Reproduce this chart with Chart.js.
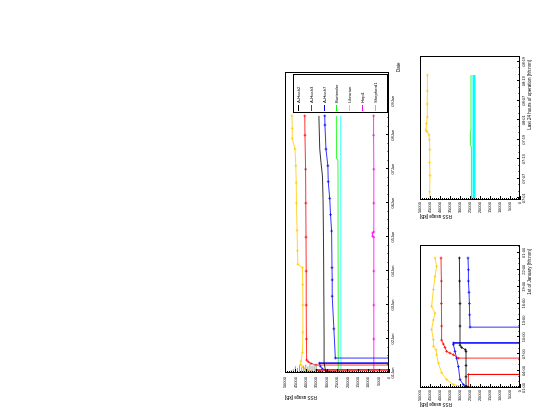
<!DOCTYPE html>
<html>
<head>
<meta charset="utf-8">
<title>RSS usage</title>
<script src="https://cdn.jsdelivr.net/npm/chart.js@4.4.1/dist/chart.umd.min.js"></script>
<style>
  html, body { margin: 0; padding: 0; background: #fff; }
  body { width: 538px; height: 416px; overflow: hidden; position: relative; }
  /* the figure is laid out upright (416 x 538) and turned a quarter to the left */
  #page { position: absolute; left: 0; top: 0; width: 416px; height: 538px;
          transform-origin: 0 0; transform: translateY(416px) rotate(-90deg); }
  #page canvas { position: absolute; }
</style>
</head>
<body>
<div id="page">
  <canvas id="c-main" width="416" height="145" style="left:0;top:265px"></canvas>
  <canvas id="c-jan1" width="208" height="133" style="left:0;top:405px"></canvas>
  <canvas id="c-last" width="226" height="133" style="left:190px;top:405px"></canvas>
</div>
<script>
'use strict';

/* ── Axis ticks ── */
const rssTicks = [0, 5000, 10000, 15000, 20000, 25000, 30000, 35000, 40000, 45000, 50000];

const mainDateTicks  = [1, 2, 3, 4, 5, 6, 7, 8, 9];
const mainDateLabels = ['01Jan', '02Jan', '03Jan', '04Jan', '05Jan', '06Jan', '07Jan', '08Jan', '09Jan'];

const jan1HourTicks  = [1, 4, 7, 10, 13, 16, 19, 22, 25];
const jan1HourLabels = ['01:00', '04:00', '07:00', '10:00', '13:00', '16:00', '19:00', '22:00', '01:00'];

const lastHourTicks  = [1, 7, 13, 19, 25, 31, 37, 43];
const lastHourLabels = ['07:01', '07:07', '07:13', '07:19', '08:01', '08:07', '08:13', '08:19'];

/* ── Main panel: x = day of January ── */
const hash2Days = [1.0, 1.02, 1.06, 1.3, 2.0, 3.0, 4.0, 5.0, 6.1, 6.8, 7.2, 7.6, 8.3, 8.57];
const hash2Rss  = [22000, 28500, 30500, 31200, 31200, 31300, 31400, 31500, 31700, 32000, 32700, 33300, 33600, 33700];

const hash3Days = [1.0, 1.01, 1.05, 1.09, 1.091, 1.234, 1.235, 1.28, 1.33, 1.38, 2.0, 3.0, 4.0, 5.0, 6.0, 7.0, 8.0, 8.57];
const hash3Rss  = [0, 30000, 33500, 35000, 0, 0, 35000, 37500, 38800, 39600, 39700, 39800, 39800, 39900, 40000, 40100, 40400, 40500];

const hash7Days = [1.0, 1.02, 1.06, 1.12, 1.2, 1.29, 1.291, 1.439, 1.44, 2.3, 3.26, 3.74, 4.1, 5.18, 5.66, 6.14, 6.63, 7.1, 7.59, 8.3, 8.57];
const hash7Rss  = [18000, 26000, 30000, 32000, 33000, 33500, 0, 0, 25800, 26500, 27300, 27300, 27400, 27600, 28100, 28500, 29200, 29400, 30300, 30800, 30900];

const bartenderDays = [1.0, 1.03, 3.0, 5.0, 6.8, 7.28, 7.3, 8.57];
const bartenderRss  = [23000, 24400, 24400, 24500, 24500, 24600, 25200, 25300];

const librarianDays = [1.0, 1.02, 1.05, 1.08, 1.12, 1.18, 1.25, 1.35, 1.6, 2.2, 3.0, 3.6, 4.1, 4.2, 4.6, 5.2, 6.0, 6.6, 7.1, 7.6, 7.9, 8.2, 8.57];
const librarianRss  = [25000, 33000, 37000, 39000, 40500, 41500, 42500, 42300, 41600, 41400, 41400, 41500, 41600, 43800, 44000, 44200, 44500, 44600, 44800, 45200, 46500, 46500, 46700];

const hepiDays = [1.0, 1.02, 2.0, 3.0, 4.0, 5.0, 5.03, 5.12, 5.15, 6.0, 7.0, 8.0, 8.57];
const hepiRss  = [6000, 7300, 7300, 7300, 7300, 7300, 7900, 7900, 7300, 7300, 7300, 7400, 7400];

const shepherdDays = [1.0, 1.05, 1.06, 8.57];
const shepherdRss  = [16500, 16800, 23100, 23200];

/* grey start-up comb near 01Jan */
const combLevels = [35000, 36000, 37000, 38000, 39000, 40000, 41000, 42000, 43000, 44000, 45000, 46000, 47000];
const combEnds   = [1.24, 1.27, 1.21, 1.26, 1.19, 1.25, 1.22, 1.17, 1.23, 1.15, 1.2, 1.12, 1.09];

/* ── 1st of January panel: x = local hour ── */
const jan1LibrarianHours = [1.0, 1.2, 1.6, 2.5, 3.7, 5.4, 6.9, 7.8, 8.4, 9.6, 11.4, 13.1, 14.3, 15.5, 18.5, 20.8, 22.6, 24.1];
const jan1LibrarianRss   = [17000, 28000, 33300, 36700, 39200, 40800, 41700, 42000, 43300, 43300, 44200, 43300, 42500, 44200, 43300, 42500, 41700, 42500];

const jan1Hash3Hours = [1.0, 1.1, 3.4, 3.41, 6.3, 6.31, 6.9, 7.2, 7.5, 8.2, 8.8, 9.5, 12, 16, 20, 24.1];
const jan1Hash3Rss   = [0, 25800, 25800, 0, 0, 30800, 33300, 35000, 36700, 37500, 38300, 39200, 39200, 39300, 39300, 39500];

const jan1Hash2Hours = [1.0, 1.3, 3.0, 5.0, 7.5, 7.8, 8.2, 8.6, 12, 16, 20, 24.1];
const jan1Hash2Rss   = [25000, 27000, 27000, 27000, 27000, 27300, 29200, 30000, 30000, 30000, 30200, 30300];

const jan1Hash7Hours = [1.0, 1.3, 1.6, 2.5, 4.8, 6.3, 7.5, 8.7, 9.0, 9.01, 11.8, 11.81, 14, 16, 18, 20, 22, 24.1];
const jan1Hash7Rss   = [24200, 26700, 28300, 30000, 30800, 31700, 32500, 33300, 33300, 0, 0, 25000, 25200, 25300, 25500, 25800, 25800, 26000];

/* ── Last hours panel: x = hours since 07Jan 00h ── */
const lastLibrarianHours = [0.5, 3, 8, 12, 16, 19, 20.5, 21.5, 22, 24, 26, 30, 34, 38.9];
const lastLibrarianRss   = [45000, 45200, 45000, 45200, 45100, 45300, 45500, 46500, 47000, 46800, 46300, 46400, 46300, 46300];

const lastBartenderHours = [0.5, 17, 17.1, 21.6, 21.7, 38.9];
const lastBartenderRss   = [24300, 24300, 24800, 24800, 24500, 24500];

const lastShepherdHours = [0.5, 38.9];
const lastShepherdRss   = [23000, 23000];

/* ── Colours (ROOT palette) ── */
const COL = {
  hash2: '#000000', hash3: '#ff0000', hash7: '#0000ff', bartender: '#00ff00',
  librarian: '#ffcc00', hepi: '#ff00ff', shepherd: '#00ffff'
};
const FAMILY = '"Liberation Sans", Arial, sans-serif';

const pts = (xs, ys) => xs.map((x, i) => ({ x, y: ys[i] }));

function series(label, color, xs, ys, marks, width) {
  return {
    label, data: pts(xs, ys), borderColor: color, backgroundColor: color,
    borderWidth: width || 0.8, tension: 0, pointStyle: 'cross',
    pointRadius: marks ? 1.4 : 0, pointBorderWidth: 0.7, pointBorderColor: color
  };
}

/* ── Frame, inner ticks and axis titles, ROOT style ── */
const rootFrame = {
  id: 'rootFrame',
  afterDraw(chart, args, o) {
    const { ctx, chartArea: a, scales: { x, y } } = chart;
    ctx.save();
    ctx.strokeStyle = '#000';
    ctx.lineWidth = 1;
    ctx.strokeRect(a.left + 0.5, a.top + 0.5, a.width - 1, a.height - 1);

    ctx.beginPath();
    const major = o.xTicks[1] - o.xTicks[0];
    let v = o.xTicks[0];
    while (v - o.xMinor >= x.min) v -= o.xMinor;
    for (; v <= x.max + 1e-9; v += o.xMinor) {
      const k = (v - o.xTicks[0]) / major;
      const len = Math.abs(k - Math.round(k)) < 1e-6 ? o.xLen : o.xLen / 2;
      const px = Math.round(x.getPixelForValue(v)) + 0.5;
      ctx.moveTo(px, a.bottom);
      ctx.lineTo(px, a.bottom - len);
    }
    for (let r = 0; r <= 50000; r += 1000) {
      const py = Math.round(y.getPixelForValue(r)) + 0.5;
      ctx.moveTo(a.left, py);
      ctx.lineTo(a.left + (r % 5000 === 0 ? o.yLen : o.yLen / 2), py);
    }
    ctx.stroke();

    ctx.fillStyle = '#000';
    ctx.font = `${o.titleSize}px ${FAMILY}`;
    ctx.textBaseline = 'alphabetic';
    ctx.textAlign = o.xTitleAlign;
    ctx.fillText(o.xTitle, a.right + o.xTitleDx, a.bottom + o.xTitleDy);

    ctx.translate(a.left - o.yTitleDx, a.top);
    ctx.rotate(-Math.PI / 2);
    ctx.textAlign = 'right';
    ctx.fillText('RSS usage [kB]', 0, 0);
    ctx.restore();
  }
};

/* ── Boxed legend in the main panel ── */
const boxLegend = {
  id: 'boxLegend',
  afterDraw(chart, args, o) {
    if (!o.show) return;
    const { ctx, chartArea: a } = chart;
    const l = a.right - 41, t = a.top + 8, w = 38, h = 94;
    ctx.save();
    ctx.fillStyle = '#fff';
    ctx.fillRect(l, t, w, h);
    ctx.strokeStyle = '#000';
    ctx.lineWidth = 1;
    ctx.strokeRect(l + 0.5, t + 0.5, w, h);
    ctx.font = `4.2px ${FAMILY}`;
    ctx.textBaseline = 'middle';
    ctx.textAlign = 'left';
    chart.data.datasets.filter(d => d.label).forEach((d, i) => {
      const yy = Math.round(a.top + 13 + i * 12.8) + 0.5;
      ctx.strokeStyle = d.borderColor;
      ctx.beginPath();
      ctx.moveTo(l + 2, yy);
      ctx.lineTo(l + 8, yy);
      ctx.stroke();
      ctx.fillStyle = '#000';
      ctx.fillText(d.label, l + 10, yy);
    });
    ctx.restore();
  }
};

function panel(id, datasets, o) {
  const font = { family: FAMILY, size: 4 };
  return new Chart(document.getElementById(id), {
    type: 'line',
    data: { datasets },
    plugins: [rootFrame, boxLegend],
    options: {
      responsive: false,
      animation: false,
      devicePixelRatio: 1,
      layout: { padding: { left: 0, top: o.top, right: o.right, bottom: 0 } },
      scales: {
        x: {
          type: 'linear', min: o.xMin, max: o.xMax,
          afterBuildTicks: s => { s.ticks = o.xTicks.map(value => ({ value })); },
          afterFit: s => { s.height = o.xHeight; },
          grid: { display: false, drawTicks: false },
          border: { display: false },
          ticks: { autoSkip: false, maxRotation: 0, padding: 1.5, font, color: '#000',
                   callback: (v, i) => o.xLabels[i] }
        },
        y: {
          type: 'linear', min: 0, max: 50000,
          afterBuildTicks: s => { s.ticks = rssTicks.map(value => ({ value })); },
          afterFit: s => { s.width = o.yWidth; },
          grid: { display: false, drawTicks: false },
          border: { display: false },
          ticks: { autoSkip: false, padding: o.yPad, font, color: '#000',
                   callback: v => String(v) }
        }
      },
      plugins: {
        legend: { display: false },
        tooltip: { enabled: false },
        rootFrame: {
          xTicks: o.xTicks, xMinor: o.xMinor, xLen: 3, yLen: 4,
          xTitle: o.xTitle, xTitleAlign: o.xTitleAlign, xTitleDx: o.xTitleDx, xTitleDy: 11,
          yTitleDx: o.yTitleDx, titleSize: 4.5
        },
        boxLegend: { show: !!o.legend }
      }
    }
  });
}

/* ── Main panel ── */
const combData = combLevels.flatMap((r, i) => [{ x: 1, y: r }, { x: combEnds[i], y: r }, { x: combEnds[i], y: null }]);

panel('c-main', [
  { label: '', data: combData, borderColor: '#a0a0a0', borderWidth: 1, pointRadius: 0, tension: 0 },
  series('Shepherd1', COL.shepherd, shepherdDays, shepherdRss, false),
  series('A-Hash2', COL.hash2, hash2Days, hash2Rss, false),
  series('A-Hash3', COL.hash3, hash3Days, hash3Rss, true),
  series('A-Hash7', COL.hash7, hash7Days, hash7Rss, true),
  series('Bartender', COL.bartender, bartenderDays, bartenderRss, false),
  series('Librarian', COL.librarian, librarianDays, librarianRss, true),
  series('Hepi1', COL.hepi, hepiDays, hepiRss, true)
].sort((p, q) => legendOrder(p) - legendOrder(q)), {
  xMin: 1, xMax: 9.86, xTicks: mainDateTicks, xLabels: mainDateLabels, xMinor: 0.25,
  top: 20, right: 72, xHeight: 21, yWidth: 43, yPad: 4,
  xTitle: 'Date', xTitleAlign: 'left', xTitleDx: 0, yTitleDx: 23, legend: true
});

function legendOrder(d) {
  return ['', 'A-Hash2', 'A-Hash3', 'A-Hash7', 'Bartender', 'Librarian', 'Hepi1', 'Shepherd1'].indexOf(d.label);
}

/* ── 1st of January ── */
panel('c-jan1', [
  series('A-Hash2', COL.hash2, jan1Hash2Hours, jan1Hash2Rss, true),
  series('A-Hash3', COL.hash3, jan1Hash3Hours, jan1Hash3Rss, true),
  series('A-Hash7', COL.hash7, jan1Hash7Hours, jan1Hash7Rss, true),
  series('Librarian', COL.librarian, jan1LibrarianHours, jan1LibrarianRss, true)
], {
  xMin: 1, xMax: 26.4, xTicks: jan1HourTicks, xLabels: jan1HourLabels, xMinor: 1,
  top: 15, right: 37, xHeight: 18, yWidth: 28, yPad: 2,
  xTitle: '1st of January [hh:mm]', xTitleAlign: 'right', xTitleDx: -4, yTitleDx: 15
});

/* ── Last hours of operation ── */
panel('c-last', [
  series('Shepherd1', COL.shepherd, lastShepherdHours, lastShepherdRss, false, 3),
  series('Bartender', COL.bartender, lastBartenderHours, lastBartenderRss, false),
  series('Librarian', COL.librarian, lastLibrarianHours, lastLibrarianRss, true)
], {
  xMin: 0.48, xMax: 44.75, xTicks: lastHourTicks, xLabels: lastHourLabels, xMinor: 2,
  top: 15, right: 56, xHeight: 18, yWidth: 26, yPad: 2,
  xTitle: 'Last 24 hours of operation [hh:mm]', xTitleAlign: 'right', xTitleDx: -4, yTitleDx: 15
});
</script>
</body>
</html>
